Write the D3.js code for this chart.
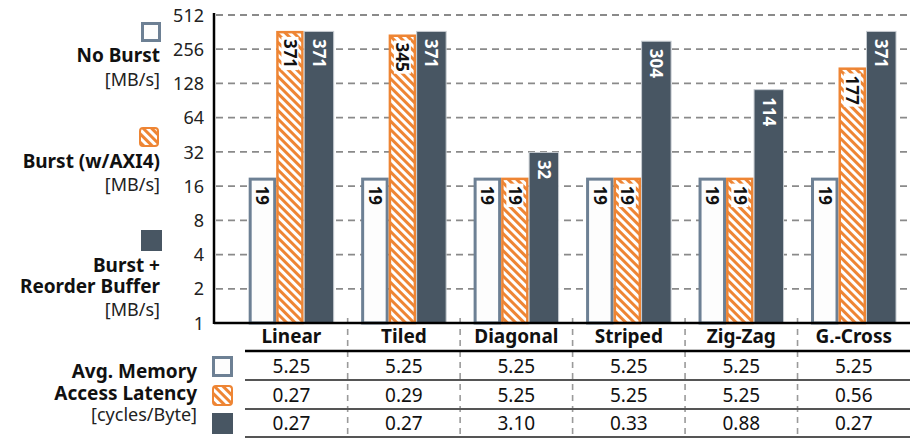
<!DOCTYPE html>
<html>
<head>
<meta charset="utf-8">
<script src="https://cdn.jsdelivr.net/npm/d3@7/dist/d3.min.js"></script>
<style>
  html, body { margin: 0; padding: 0; background: #fff; }
  svg { display: block; font-family: "Noto Sans", sans-serif; }
</style>
</head>
<body>
<svg id="chart" width="910" height="438"></svg>
<script>
// Access patterns and the three memory configurations
const categories = ["Linear", "Tiled", "Diagonal", "Striped", "Zig-Zag", "G.-Cross"];
const seriesKeys = ["noBurst", "burst", "reorder"];

// Throughput [MB/s]
const noBurst = [19, 19, 19, 19, 19, 19];
const burst   = [371, 345, 19, 19, 19, 177];
const reorder = [371, 371, 32, 304, 114, 371];

// Average memory access latency [cycles/Byte]
const latNoBurst = ["5.25", "5.25", "5.25", "5.25", "5.25", "5.25"];
const latBurst   = ["0.27", "0.29", "5.25", "5.25", "5.25", "0.56"];
const latReorder = ["0.27", "0.27", "3.10", "0.33", "0.88", "0.27"];

const yTicks = [1, 2, 4, 8, 16, 32, 64, 128, 256, 512];

const COL = { slate: "#6d8094", orange: "#ee8534", dark: "#485663", grid: "#8a8a8a" };

const svg = d3.select("#chart");
const defs = svg.append("defs");

// diagonal white hatch on orange
const pat = defs.append("pattern")
  .attr("id", "hatch").attr("patternUnits", "userSpaceOnUse")
  .attr("width", 6).attr("height", 6)
  .attr("patternTransform", "rotate(-45)");
pat.append("rect").attr("width", 6).attr("height", 6).attr("fill", COL.orange);
pat.append("rect").attr("x", 0).attr("width", 3).attr("height", 6).attr("fill", "#fff");

const yAxisX = 214, baseY = 323, topY = 15, rightX = 910;

const y = d3.scaleLog().base(2).domain([1, 512]).range([baseY, topY]);
const x = d3.scaleBand().domain(categories).range([235.2, rightX]).padding(0);

// grid lines
svg.append("g").selectAll("line").data(yTicks.slice(1)).join("line")
  .attr("x1", yAxisX + 2).attr("x2", rightX)
  .attr("y1", d => y(d)).attr("y2", d => y(d))
  .attr("stroke", COL.grid).attr("stroke-width", 1.8)
  .attr("stroke-dasharray", "7,5");

// y tick labels
const yAxis = d3.axisLeft(y).tickValues(yTicks).tickFormat(d3.format("d")).tickSize(0).tickPadding(10);
const gy = svg.append("g").attr("transform", `translate(${yAxisX},0)`).call(yAxis);
gy.select(".domain").remove();
gy.selectAll("text").attr("font-size", 18).attr("fill", "#222")
  .attr("font-family", "Noto Sans").attr("dy", "0.34em");

// table column separators (dashed), extending from the x axis down
const bounds = categories.slice(1).map(c => x(c));
svg.append("g").selectAll("line").data(bounds).join("line")
  .attr("x1", d => d).attr("x2", d => d)
  .attr("y1", 318).attr("y2", 438)
  .attr("stroke", "#9a9a9a").attr("stroke-width", 1.6)
  .attr("stroke-dasharray", "6,5");

// bars
const seriesData = { noBurst, burst, reorder };
const barW = { noBurst: 27.5, burst: 27.5, reorder: 30.5 };
const groupW = barW.noBurst + barW.burst + barW.reorder;
const barOff = { noBurst: -groupW / 2, burst: -groupW / 2 + barW.noBurst, reorder: -groupW / 2 + barW.noBurst + barW.burst };

const bars = [];
categories.forEach((c, i) => {
  seriesKeys.forEach(k => {
    bars.push({ cat: c, key: k, value: seriesData[k][i] });
  });
});

const gBars = svg.append("g");
bars.forEach(b => {
  const x0 = x(b.cat) + x.bandwidth() / 2 + barOff[b.key];
  const w = barW[b.key];
  const yt = y(b.value);
  const h = baseY - yt;
  if (b.key === "noBurst") {
    gBars.append("rect").attr("x", x0 + 1.5).attr("y", yt + 1.5)
      .attr("width", w - 3).attr("height", h - 1.5)
      .attr("fill", "#fdfdfd").attr("stroke", COL.slate).attr("stroke-width", 3);
  } else if (b.key === "burst") {
    gBars.append("rect").attr("x", x0 + 1.25).attr("y", yt + 1.25)
      .attr("width", w - 2.5).attr("height", h - 1.25)
      .attr("fill", "url(#hatch)").attr("stroke", COL.orange).attr("stroke-width", 2.5);
  } else {
    gBars.append("rect").attr("x", x0 + 0.5).attr("y", yt + 0.5)
      .attr("width", w - 1).attr("height", h - 0.5)
      .attr("fill", COL.dark).attr("stroke", "#c8cdd2").attr("stroke-width", 1);
  }
});

// value labels (rotated, reading downward from bar top)
const gLab = svg.append("g");
bars.forEach(b => {
  const cx = x(b.cat) + x.bandwidth() / 2 + barOff[b.key] + barW[b.key] / 2;
  const yt = y(b.value) + 8;
  const g = gLab.append("g").attr("transform", `translate(${cx},${yt}) rotate(90)`);
  const t = g.append("text").text(b.value)
    .attr("x", 0).attr("y", 0).attr("dy", "0.36em")
    .attr("font-size", 17).attr("font-weight", 700)
    .attr("fill", b.key === "reorder" ? "#fff" : "#111");
  if (b.key === "burst") {
    const len = t.node().getComputedTextLength();
    g.insert("rect", "text").attr("x", -2).attr("y", -8.5)
      .attr("width", len + 4).attr("height", 17).attr("fill", "#fff");
  }
});

// axes lines
svg.append("line").attr("x1", yAxisX).attr("x2", yAxisX).attr("y1", 13).attr("y2", baseY + 1)
  .attr("stroke", "#000").attr("stroke-width", 2.5);
svg.append("line").attr("x1", yAxisX).attr("x2", rightX).attr("y1", baseY).attr("y2", baseY)
  .attr("stroke", "#000").attr("stroke-width", 2.5);

// x axis category labels (table header)
const xAxis = d3.axisBottom(x).tickSize(0).tickPadding(0);
const gx = svg.append("g").attr("transform", `translate(0,336)`).call(xAxis);
gx.select(".domain").remove();
gx.selectAll("text").attr("font-size", 19).attr("font-weight", 700).attr("fill", "#111")
  .attr("font-family", "Noto Sans").attr("dy", "0.35em").attr("y", 0);

// table rules
const tableLeft = 245;
svg.append("line").attr("x1", tableLeft).attr("x2", rightX).attr("y1", 351).attr("y2", 351)
  .attr("stroke", "#000").attr("stroke-width", 2.5);
[380, 409, 437].forEach(yy => {
  svg.append("line").attr("x1", tableLeft).attr("x2", rightX).attr("y1", yy).attr("y2", yy)
    .attr("stroke", "#555").attr("stroke-width", 1.8);
});

// table values
const rows = [latNoBurst, latBurst, latReorder];
const rowY = [366, 395, 423];
rows.forEach((r, ri) => {
  svg.append("g").selectAll("text").data(r).join("text")
    .attr("x", (d, i) => x(categories[i]) + x.bandwidth() / 2)
    .attr("y", rowY[ri]).attr("dy", "0.35em")
    .attr("text-anchor", "middle").attr("font-size", 19).attr("fill", "#111")
    .text(d => d);
});

// legend swatches
function swatch(key, x0, y0, size) {
  if (key === "noBurst") {
    svg.append("rect").attr("x", x0 + 1.5).attr("y", y0 + 1.5).attr("width", size - 3).attr("height", size - 3)
      .attr("fill", "#fdfdfd").attr("stroke", COL.slate).attr("stroke-width", 3);
  } else if (key === "burst") {
    svg.append("rect").attr("x", x0 + 1).attr("y", y0 + 1).attr("width", size - 2).attr("height", size - 2)
      .attr("rx", 3).attr("fill", "url(#hatch)").attr("stroke", COL.orange).attr("stroke-width", 2);
  } else {
    svg.append("rect").attr("x", x0).attr("y", y0).attr("width", size).attr("height", size)
      .attr("fill", COL.dark);
  }
}

swatch("noBurst", 141, 22, 20);
swatch("burst", 139, 127, 20);
swatch("reorder", 141, 230, 21);

function label(lines, xr) {
  lines.forEach(l => {
    svg.append("text").attr("x", xr).attr("y", l.y).attr("dy", "0.35em")
      .attr("text-anchor", "end").attr("font-size", l.bold ? 19 : 18)
      .attr("font-weight", l.bold ? 700 : 400).attr("fill", l.bold ? "#111" : "#222")
      .text(l.t);
  });
}

label([{ t: "No Burst", y: 55, bold: true }, { t: "[MB/s]", y: 80 }], 160);
label([{ t: "Burst (w/AXI4)", y: 161, bold: true }, { t: "[MB/s]", y: 185 }], 160);
label([{ t: "Burst +", y: 265, bold: true }, { t: "Reorder Buffer", y: 286, bold: true }, { t: "[MB/s]", y: 310 }], 160);

swatch("noBurst", 212, 356, 21);
swatch("burst", 212, 385, 21);
swatch("reorder", 212, 413, 21);
label([{ t: "Avg. Memory", y: 371, bold: true }, { t: "Access Latency", y: 393, bold: true }, { t: "[cycles/Byte]", y: 415 }], 197);
</script>
</body>
</html>
